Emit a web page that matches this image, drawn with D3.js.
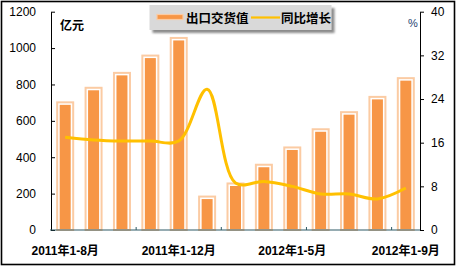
<!DOCTYPE html>
<html>
<head>
<meta charset="utf-8">
<script src="https://cdn.jsdelivr.net/npm/d3@7"></script>
<style>
html,body{margin:0;padding:0;background:#fff;}
svg{display:block;}
text{font-family:"Liberation Sans",Arial,"Noto Sans CJK SC",sans-serif;}
</style>
</head>
<body>
<svg id="chart" width="457" height="268"></svg>
<script>
const categories = ["2011年1-8月","2011年1-9月","2011年1-10月","2011年1-11月","2011年1-12月","2012年1-2月","2012年1-3月","2012年1-4月","2012年1-5月","2012年1-6月","2012年1-7月","2012年1-8月","2012年1-9月"];
const exportValues = [688, 768, 850, 945, 1042, 170, 242, 345, 440, 540, 634, 718, 821];
const growthRates = [17.0, 16.5, 16.3, 16.3, 16.3, 25.8, 8.6, 8.9, 8.0, 6.6, 6.6, 5.7, 7.7];
const leftTicks = [0, 200, 400, 600, 800, 1000, 1200];
const rightTicks = [0, 8, 16, 24, 32, 40];
const labelIndices = [0, 4, 8, 12];
const seriesNames = ["出口交货值", "同比增长"];
const unitLeft = "亿元", unitRight = "%";

const svg = d3.select("#chart");
const X0 = 51, X1 = 420, Y0 = 230, Y1 = 11.7;
const barFill = "#F79646", barEdge = "#FBCBA3", lineColor = "#FFC000", axisTeal = "#2E5A66";

const x = d3.scaleBand().domain(d3.range(categories.length)).range([X0, X1]).padding(0);
const yL = d3.scaleLinear().domain([0, 1200]).range([Y0, Y1]);
const yR = d3.scaleLinear().domain([0, 40]).range([Y0, Y1]);

// outer frame
svg.append("rect").attr("x",1.5).attr("y",1.5).attr("width",453).attr("height",263)
  .attr("fill","#fff").attr("stroke","#000").attr("stroke-width",1.6);

// defs
const defs = svg.append("defs");
const f = defs.append("filter").attr("id","sh").attr("x","-10%").attr("y","-30%").attr("width","130%").attr("height","170%");
f.append("feDropShadow").attr("dx",3).attr("dy",3).attr("stdDeviation",1.2).attr("flood-color","#7f7f7f").attr("flood-opacity",0.9);

// bars
const inner = 11;
const bars = svg.append("g");
exportValues.forEach((v,i)=>{
  const cx = x(i) + x.bandwidth()/2;
  const top = yL(v);
  bars.append("rect").attr("x",cx-inner/2-2.5).attr("y",top-2.5).attr("width",inner+5).attr("height",Y0-top+2.5)
    .attr("fill","none").attr("stroke",barEdge).attr("stroke-width",2);
  bars.append("rect").attr("x",cx-inner/2).attr("y",top).attr("width",inner).attr("height",Y0-top-1)
    .attr("fill",barFill);
});

// left axis
const axL = svg.append("g").attr("transform",`translate(${X0},0)`)
  .call(d3.axisLeft(yL).tickValues(leftTicks).tickFormat(d3.format("d")).tickSize(-4).tickSizeOuter(0).tickPadding(15));
axL.select(".domain").attr("stroke","#000");
axL.selectAll(".tick line").attr("stroke","#000");
axL.selectAll(".tick text").attr("font-size",12).attr("fill","#000");

// right axis
const axR = svg.append("g").attr("transform",`translate(${X1},0)`)
  .call(d3.axisRight(yR).tickValues(rightTicks).tickFormat(d3.format("d")).tickSize(4).tickSizeOuter(0).tickPadding(7));
axR.select(".domain").attr("stroke","#000");
axR.selectAll(".tick line").attr("stroke","#000");
axR.selectAll(".tick text").attr("font-size",12).attr("fill","#000");

// x axis
const gx = svg.append("g");
gx.append("line").attr("x1",X0-1).attr("x2",X1).attr("y1",Y0).attr("y2",Y0).attr("stroke",axisTeal).attr("stroke-width",1.2);
[3,6,9,12].forEach(k=>{
  const xx = X0 + k*x.step();
  gx.append("line").attr("x1",xx).attr("x2",xx).attr("y1",Y0).attr("y2",Y0-3).attr("stroke",axisTeal);
});
labelIndices.forEach(i=>{
  gx.append("text").attr("x",x(i)+x.bandwidth()/2).attr("y",254.5).attr("text-anchor","middle")
    .attr("font-size",12).attr("font-weight","bold").attr("fill","#000").text(categories[i]);
});

// line
const line = d3.line().x((d,i)=>x(i)+x.bandwidth()/2).y(d=>yR(d)).curve(d3.curveCatmullRom.alpha(0.5));
svg.append("path").datum(growthRates).attr("d",line).attr("fill","none").attr("stroke",lineColor).attr("stroke-width",3);

// units
svg.append("text").attr("x",60).attr("y",29.5).attr("font-size",12).attr("font-weight","bold").text(unitLeft);
svg.append("text").attr("x",408).attr("y",27).attr("font-size",11).attr("fill","#1F3F6F").text(unitRight);

// legend
const lg = svg.append("g");
lg.append("rect").attr("x",149.5).attr("y",5).attr("width",182).attr("height",25).attr("fill","#D9D9D9").attr("filter","url(#sh)");
lg.append("rect").attr("x",157).attr("y",14.5).attr("width",26).attr("height",5).attr("fill",barFill).attr("stroke",barEdge).attr("stroke-width",1.2);
lg.append("text").attr("x",186).attr("y",22.5).attr("font-size",12.5).attr("font-weight","bold").text(seriesNames[0]);
lg.append("line").attr("x1",251).attr("x2",280).attr("y1",17.5).attr("y2",17.5).attr("stroke",lineColor).attr("stroke-width",2.2);
lg.append("text").attr("x",281).attr("y",22.5).attr("font-size",12.5).attr("font-weight","bold").text(seriesNames[1]);
</script>
</body>
</html>
